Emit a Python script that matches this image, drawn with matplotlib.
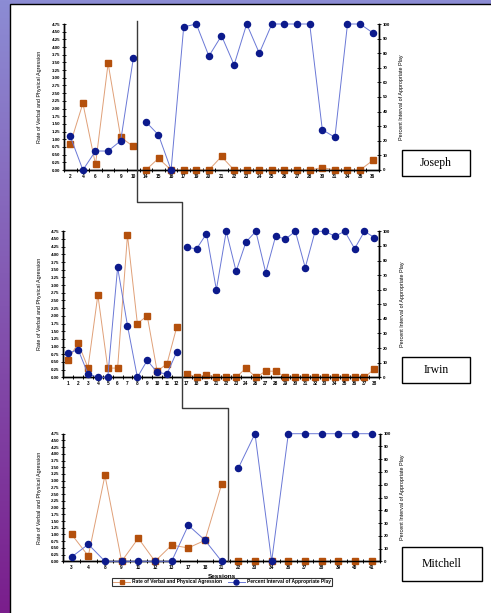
import matplotlib
matplotlib.use('Agg')
import matplotlib.pyplot as plt
import numpy as np
from matplotlib.patches import Rectangle
from matplotlib.lines import Line2D
from matplotlib.colors import to_rgb

W, H, DPI = 491, 613, 100

# ---------------- data ----------------
joseph_sessions = ['2', '4', '6', '8', '9', '10',
                   '14', '15', '16', '17', '19', '20', '21', '22', '23', '24', '25', '26', '27',
                   '28', '30', '31', '34', '35', '36']
joseph_aggr = [0.85, 2.17, 0.18, 3.47, 1.06, 0.77,
               0, 0.38, 0, 0, 0, 0, 0.44, 0, 0, 0, 0, 0, 0, 0, 0.08, 0, 0, 0, 0.31]
joseph_play = [23, 0, 13, 13, 20, 76.5,
               33, 24, 0, 98, 100, 78, 92, 72, 100, 80, 100, 100, 100, 100, 27.6, 22.4, 100, 100, 94]
joseph_baseline = 6

irwin_sessions = ['1', '2', '3', '4', '5', '6', '7', '8', '9', '10', '11', '12',
                  '17', '18', '19', '21', '22', '23', '24', '26', '27', '28', '29', '30', '31',
                  '32', '33', '34', '35', '36', '37', '38']
irwin_aggr = [0.57, 1.12, 0.31, 2.68, 0.30, 0.30, 4.63, 1.75, 2.0, 0.2, 0.44, 1.65,
              0.12, 0, 0.08, 0, 0, 0, 0.3, 0, 0.2, 0.2, 0, 0, 0, 0, 0, 0, 0, 0, 0, 0.27]
irwin_play = [16.4, 19, 2.3, 0, 0, 75.3, 35.4, 0, 11.6, 3.4, 2.3, 17.6,
              89, 88, 98.4, 60, 100, 72.6, 92.7, 100, 71.7, 96.6, 94.7, 100, 75.1, 100, 100,
              96.6, 100, 88.1, 100, 95.7]
irwin_baseline = 12

mitchell_sessions = ['3', '4', '8', '9', '11', '12', '13', '17', '18', '21',
                     '22', '33', '34', '36', '37', '38', '39', '40', '41']
mitchell_aggr = [1.0, 0.2, 3.2, 0, 0.86, 0, 0.6, 0.5, 0.78, 2.87,
                 0, 0, 0, 0, 0, 0, 0, 0, 0]
mitchell_play = [3.4, 13.3, 0, 0, 0, 0, 0, 28.2, 16.5, 0,
                 73, 100, 0, 100, 100, 100, 100, 100, 100]
mitchell_baseline = 10

names = ['Joseph', 'Irwin', 'Mitchell']
left_ticks = [0, 0.25, 0.5, 0.75, 1.0, 1.25, 1.5, 1.75, 2.0, 2.25, 2.5, 2.75, 3.0, 3.25,
              3.5, 3.75, 4.0, 4.25, 4.5, 4.75]
right_ticks = [0, 10, 20, 30, 40, 50, 60, 70, 80, 90, 100]
left_label = 'Rate of Verbal and Physical Agression'
right_label = 'Percent Interval of Appropriate Play'
x_label = 'Sessions'

# ---------------- style ----------------
OR_M = '#b4500c'
OR_L = '#e0a078'
BL_M = '#0c1a8c'
BL_L = '#6a78d6'
FONT = 'Liberation Sans'

fig = plt.figure(figsize=(W / DPI, H / DPI), dpi=DPI)

# background: gradient + white slide
bg = fig.add_axes([0, 0, 1, 1], zorder=-10)
bg.set_xlim(0, W)
bg.set_ylim(H, 0)
bg.axis('off')
top = np.array(to_rgb('#8c8cd4'))
bot = np.array(to_rgb('#7a1e8c'))
t = np.linspace(0, 1, 256)[:, None, None]
grad = top[None, None, :] * (1 - t) + bot[None, None, :] * t
bg.imshow(grad, extent=(0, W, H, 0), aspect='auto', zorder=0)
bg.add_patch(Rectangle((10.5, 3.5), W, H, facecolor='white', edgecolor='black', lw=1.0, zorder=1))


def px_rect(x0, y0, x1, y1):
    return [x0 / W, 1 - y1 / H, (x1 - x0) / W, (y1 - y0) / H]


panels = [
    (px_rect(64, 24, 379, 170), joseph_sessions, joseph_aggr, joseph_play, joseph_baseline),
    (px_rect(63.3, 231.3, 379.3, 377.3), irwin_sessions, irwin_aggr, irwin_play, irwin_baseline),
    (px_rect(63.3, 433.7, 380, 561.3), mitchell_sessions, mitchell_aggr, mitchell_play, mitchell_baseline),
]

axes = []
for i, (rect, sess, aggr, play, nb) in enumerate(panels):
    ax = fig.add_axes(rect)
    ax.set_facecolor('none')
    ax2 = ax.twinx()
    ax2.set_facecolor('none')
    n = len(sess)
    x = np.arange(n)
    for seg in (slice(0, nb), slice(nb, n)):
        ax.plot(x[seg], np.array(aggr)[seg], color=OR_L, lw=0.7, marker='s', ms=3.8,
                mfc=OR_M, mec=OR_M, clip_on=False, zorder=3)
        ax2.plot(x[seg], np.array(play)[seg], color=BL_L, lw=0.7, marker='o', ms=4.4,
                 mfc=BL_M, mec=BL_M, clip_on=False, zorder=4)
    ax.set_xlim(-0.5, n - 0.5)
    ax.set_ylim(0, 4.75)
    ax2.set_ylim(0, 100)
    ax.set_xticks(x)
    ax.set_xticklabels(sess)
    ax.set_xticks(np.arange(-0.5, n, 1.0), minor=True)
    ax.tick_params(axis='x', which='major', length=0, pad=3, labelsize=3.4)
    ax.tick_params(axis='x', which='minor', length=3, width=0.7, direction='inout')
    ax.set_yticks(left_ticks)
    ax.set_yticklabels(['%.2f' % v for v in left_ticks])
    ax.tick_params(axis='y', length=2.5, width=0.6, direction='inout', labelsize=3.2, pad=1.5)
    ax2.set_yticks(right_ticks)
    ax2.tick_params(axis='y', length=2.5, width=0.6, direction='inout', labelsize=3.2, pad=1.5)
    for a in (ax, ax2):
        a.spines['top'].set_visible(False)
        for s in ('left', 'right', 'bottom'):
            a.spines[s].set_linewidth(1.0)
            a.spines[s].set_color('black')
        for lab in a.get_xticklabels() + a.get_yticklabels():
            lab.set_fontfamily(FONT)
            lab.set_fontweight('bold')
    wpx = rect[2] * W
    ax.set_ylabel(left_label, fontsize=3.9, family=FONT)
    ax.yaxis.set_label_coords(-21.6 / wpx, 0.5)
    ax2.set_ylabel(right_label, fontsize=3.9, family=FONT, rotation=90)
    ax2.yaxis.set_label_coords(1 + 20.3 / wpx, 0.5)
    axes.append(ax)

axes[2].set_xlabel(x_label, fontsize=4.6, family=FONT, fontweight='bold')
axes[2].xaxis.set_label_coords((221.7 - 63.3) / (380 - 63.3), -(574 - 561.3) / (561.3 - 433.7))

# phase change line (computed through the axes transforms)
fig.canvas.draw()
inv = fig.transFigure.inverted()


def xfig(ax, xd):
    return inv.transform(ax.transData.transform((xd, 0)))[0]


x1 = xfig(axes[0], 5.3)
x2 = xfig(axes[1], 11.5)
x3 = xfig(axes[2], 9.4)
y_top = 1 - 21 / H
y_s1 = 1 - 202 / H
y_s2 = 1 - 408 / H
y_bot = axes[2].get_position().y0
xs = [x1, x1, x2, x2, x3, x3]
ys = [y_top, y_s1, y_s1, y_s2, y_s2, y_bot]
fig.add_artist(Line2D(xs, ys, transform=fig.transFigure, color='#3a3a3a', lw=1.0, zorder=5))

# name boxes
boxes = [(401.7, 150, 470, 176), (401.7, 356.7, 470, 383), (401.7, 546.7, 481.7, 581.3)]
for name, (bx0, by0, bx1, by1) in zip(names, boxes):
    bg.add_patch(Rectangle((bx0, by0), bx1 - bx0, by1 - by0, facecolor='white',
                           edgecolor='black', lw=1.0, zorder=2))
    bg.text((bx0 + bx1) / 2, (by0 + by1) / 2, name, ha='center', va='center',
            fontsize=8.5, family='Liberation Serif', zorder=3)

# legend
handles = [Line2D([], [], color=OR_L, lw=0.7, marker='s', ms=3.2, mfc=OR_M, mec=OR_M),
           Line2D([], [], color=BL_L, lw=0.7, marker='o', ms=3.6, mfc=BL_M, mec=BL_M)]
leg = fig.legend(handles, [left_label, right_label], loc='center', ncol=2,
                 bbox_to_anchor=(222 / W, 1 - 582 / H),
                 prop={'family': FONT, 'size': 3.5, 'weight': 'bold'},
                 frameon=True, fancybox=False, edgecolor='black', borderpad=0.25,
                 handlelength=3.5, handletextpad=0.4, columnspacing=1.2)
leg.get_frame().set_linewidth(0.8)

fig.savefig('out.png', dpi=DPI)
